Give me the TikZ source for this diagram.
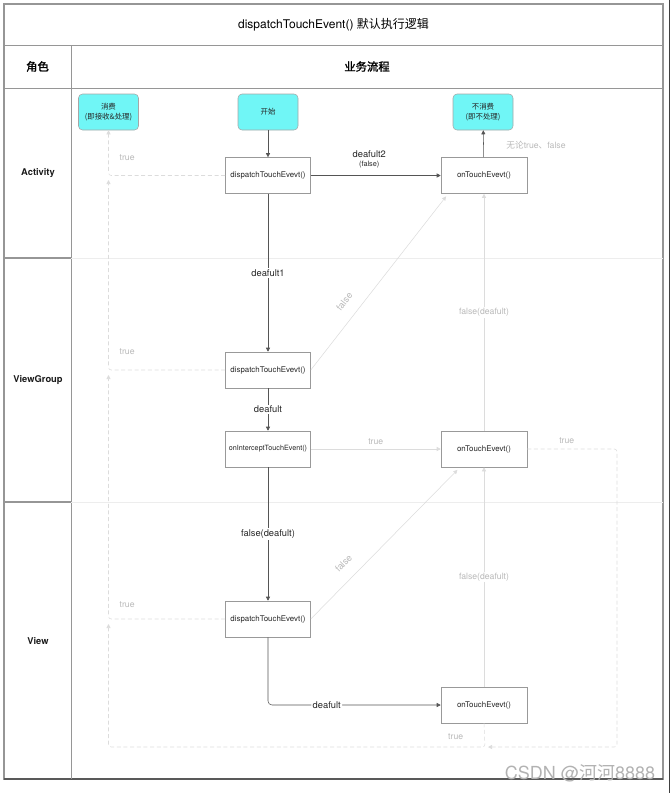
\documentclass[tikz,border=0pt]{standalone}
\usepackage{fontspec}
\setmainfont{TeX Gyre Heros}
\newfontfamily\cjk{Noto Sans CJK SC}
\newfontfamily\cjkb{Noto Sans CJK SC}[FakeBold=1.5]
\usetikzlibrary{positioning,shapes,arrows.meta}
\definecolor{boxcyan}{RGB}{112,246,246}
\definecolor{linedark}{RGB}{85,85,85}
\definecolor{linelight}{RGB}{220,220,220}
\definecolor{textlight}{RGB}{185,185,185}
\definecolor{framegray}{RGB}{150,150,150}
\tikzstyle{method}=[rectangle, draw=black!40, fill=white, text=black!85,
        minimum width=63.75pt, minimum height=27pt, inner sep=1pt,
        font=\fontsize{5.9}{7}\selectfont]
\tikzstyle{touch}=[method, minimum width=64.5pt]
\tikzstyle{state}=[rectangle, draw=black!35, rounded corners=3pt, fill=boxcyan,
        minimum width=45pt, minimum height=27pt, inner sep=1pt, align=center,
        text=black!85, font=\fontsize{5.6}{7.5}\selectfont\cjk]
\tikzstyle{role}=[font=\fontsize{7}{8}\selectfont\bfseries, text=black!90]
\tikzstyle{flow}=[draw=linedark, -{Triangle[length=3pt,width=3pt]}]
\tikzstyle{faint}=[draw=linelight, -{Triangle[length=3pt,width=3pt]}]
\tikzstyle{back}=[faint, dash pattern=on 3pt off 2pt, rounded corners=2pt]
\tikzstyle{flowlabel}=[font=\fontsize{7}{8}\selectfont, text=black!85, fill=white, inner sep=1pt]
\tikzstyle{faintlabel}=[font=\fontsize{6.5}{7}\selectfont, text=textlight, inner sep=1pt]

\begin{document}
\begin{tikzpicture}[x=0.75pt, y=-0.75pt]
        \useasboundingbox (0,0) rectangle (671,793);
        % table frame and lanes
        \draw[black!75, line width=1pt] (669.5,0) -- (669.5,793);
        \draw[framegray, line width=1pt] (4,4) rectangle (663,779);
        \draw[black!65, line width=1pt] (4,779) -- (663,779);
        \draw[framegray] (4,45) -- (663,45);
        \draw[framegray] (4,88) -- (663,88);
        \draw[framegray] (71,45) -- (71,779);
        \draw[framegray, line width=0.8pt] (4,258) -- (71,258);
        \draw[framegray, line width=0.8pt] (4,502) -- (71,502);
        \draw[black!7] (71,258) -- (663,258);
        \draw[black!7] (71,502) -- (663,502);

        \node (title) at (333.5,24.5) {\fontsize{9}{10}\selectfont dispatchTouchEvent() {\cjk 默认执行逻辑}};
        \node (roleHead) at (37.5,66.5) {\fontsize{8.5}{9}\selectfont\cjkb 角色};
        \node (flowHead) at (367,66.5) {\fontsize{8.5}{9}\selectfont\cjkb 业务流程};
        \node (Activity) [role] at (38,173) {Activity};
        \node (ViewGroup) [role] at (38,380) {ViewGroup};
        \node (View) [role] at (38,641) {View};

        % flow nodes
        \node (Consume) [state] at (108.5,112) {消费\\(即接收\&处理)};
        \node (Start) [state] at (268,112) {开始};
        \node (NoConsume) [state] at (483,112) {不消费\\(即不处理)};
        \node (ActDispatch) [method] at (268,175.5) {dispatchTouchEvevt()};
        \node (ActTouch) [touch] at (484,175.5) {onTouchEvevt()};
        \node (VGDispatch) [method] at (268,370) {dispatchTouchEvevt()};
        \node (VGIntercept) [method, font=\fontsize{5.4}{6}\selectfont] at (268,449) {onInterceptTouchEvent()};
        \node (VGTouch) [touch] at (484,449) {onTouchEvevt()};
        \node (ViewDispatch) [method] at (268,619) {dispatchTouchEvevt()};
        \node (ViewTouch) [touch] at (484,705) {onTouchEvevt()};

        % rail points
        \coordinate (railAct) at (108.5,180);
        \coordinate (railVG) at (108.5,375);
        \coordinate (railView) at (108.5,624);
        \coordinate (bottomTurn) at (485,747);
        \coordinate (rightTurn) at (617,747);
        \coordinate (bottomJoin) at (488,747);

        % default flow
        \draw[flow] (Start) -- (ActDispatch);
        \draw[flow] (ActDispatch) -- node[above=2pt, align=center, font=\fontsize{7}{8}\selectfont, text=black!85, pos=0.45]
          {deafult2\\[-1.5pt]{\fontsize{5.5}{6}\selectfont(false)}} (ActTouch);
        \draw[flow] (ActTouch) -- node[faintlabel, right=16pt, pos=0.45] {{\cjk 无论}true{\cjk 、}false} (NoConsume);
        \draw[flow] (ActDispatch) -- node[flowlabel] {deafult1} (VGDispatch);
        \draw[flow] (VGDispatch) -- node[flowlabel] {deafult} (VGIntercept);
        \draw[flow] (VGIntercept) -- node[flowlabel] {false(deafult)} (ViewDispatch);
        \draw[flow, rounded corners=3pt] (ViewDispatch) |- node[flowlabel, pos=0.67] {deafult} (ViewTouch);

        % returns
        \draw[faint] (VGIntercept) -- node[faintlabel, above=2pt] {true} (VGTouch);
        \draw[faint] (VGTouch) -- node[faintlabel, fill=white] {false(deafult)} (ActTouch);
        \draw[faint] (ViewTouch) -- node[faintlabel, fill=white] {false(deafult)} (VGTouch);
        \draw[faint] (VGDispatch.east) -- node[faintlabel, font=\fontsize{7}{8}\selectfont, sloped, above=8pt, pos=0.34] {false}
          ([xshift=4pt,yshift=-2pt]ActTouch.south west);
        \draw[faint] (ViewDispatch.east) -- node[faintlabel, font=\fontsize{7}{8}\selectfont, sloped, above=8pt, pos=0.3] {false}
          ([xshift=12.5pt,yshift=-2pt]VGTouch.south west);

        % consumed paths
        \draw[back] (ActDispatch.west) -| node[faintlabel, xshift=14pt, yshift=13.5pt] {true} (Consume.south);
        \draw[back] (VGDispatch.west) -| node[faintlabel, xshift=14pt, yshift=13.5pt] {true} (railAct);
        \draw[back] (ViewDispatch.west) -| node[faintlabel, xshift=14pt, yshift=10.5pt] {true} (railVG);
        \draw[back] (ViewTouch.south) -- node[faintlabel, pos=1, xshift=-22pt, yshift=7.5pt] {true} (bottomTurn) -| (railView);
        \draw[back] (VGTouch.east) -| node[faintlabel, above=3pt, pos=0.22] {true} (rightTurn) -- (bottomJoin);

        \node (mark) at (580,773) {\fontsize{13.5}{14}\selectfont\color{black!30}CSDN @{\cjk 河河}8888};
\end{tikzpicture}
\end{document}
